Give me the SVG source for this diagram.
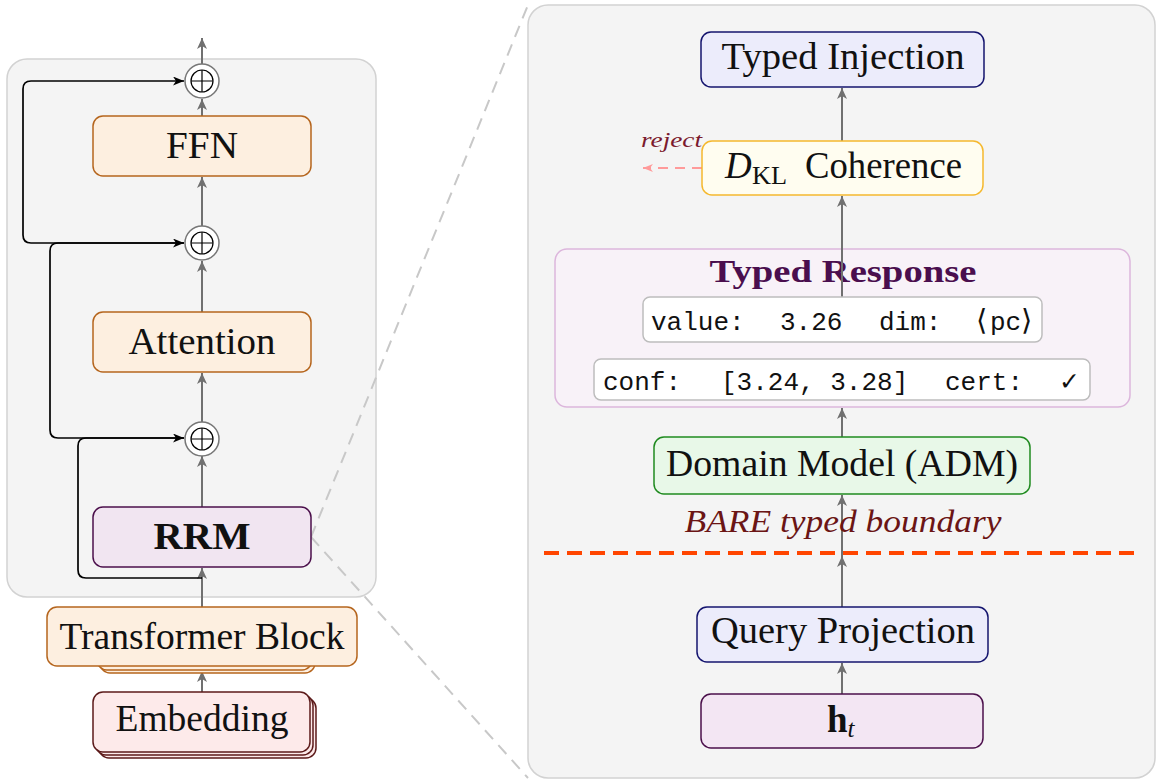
<svg xmlns="http://www.w3.org/2000/svg" width="1156" height="780" viewBox="0 0 1156 780">
<defs>
<style>
.lbl{font-family:"Liberation Serif",serif;font-size:37px;fill:#111;text-anchor:middle}
.mono{font-family:"Liberation Mono",monospace;font-size:26px;fill:#111}
.panel{fill:#f4f4f4;stroke:#d2d2d2;stroke-width:1.5}
.orange{fill:#fdefe0;stroke:#b5651d;stroke-width:1.5}
.purple{fill:#f1e5f1;stroke:#4b0f4b;stroke-width:1.5}
.pink{fill:#fdeaea;stroke:#5c1a1a;stroke-width:1.5}
.blue{fill:#ececfb;stroke:#14146e;stroke-width:1.5}
.yellow{fill:#fffdf0;stroke:#f5b82e;stroke-width:1.5}
.green{fill:#e8f8e8;stroke:#1f8a1f;stroke-width:1.5}
.field{fill:#ffffff;stroke:#bdbdbd;stroke-width:1.5}
.garr{fill:none;stroke:#707070;stroke-width:2;marker-end:url(#ga)}
.barr{fill:none;stroke:#000;stroke-width:1.7;marker-end:url(#ba)}
.zoomline{fill:none;stroke:#c8c8c8;stroke-width:2;stroke-dasharray:12 8}
</style>
<marker id="ga" markerUnits="userSpaceOnUse" markerWidth="13" markerHeight="11" refX="11" refY="5" orient="auto">
<path d="M0,0 L11,5 L0,10 L3,5 z" fill="#707070"/>
</marker>
<marker id="ba" markerUnits="userSpaceOnUse" markerWidth="13" markerHeight="10" refX="11" refY="4.5" orient="auto">
<path d="M0,0 L11,4.5 L0,9 L3,4.5 z" fill="#000"/>
</marker>
<marker id="ra" markerUnits="userSpaceOnUse" markerWidth="12" markerHeight="10" refX="10" refY="4" orient="auto">
<path d="M0,0 L10,4 L0,8 L3,4 z" fill="#ff9a9a"/>
</marker>
</defs>

<!-- panels -->
<rect class="panel" x="7" y="59" width="369" height="538" rx="20"/>
<rect class="panel" x="528" y="5" width="627" height="773" rx="20"/>

<!-- typed response container -->
<g id="typed-response">
<rect x="555" y="249" width="575" height="158" rx="12" fill="#f8f2f8" stroke="#dcb6dc" stroke-width="1.5"/>
<text x="843" y="282" font-family="Liberation Serif,serif" font-size="32" font-weight="bold" fill="#4a0e4e" text-anchor="middle" textLength="267" lengthAdjust="spacingAndGlyphs">Typed Response</text>
</g>

<!-- connectors -->
<g id="connectors">
<line class="garr" x1="202" y1="692" x2="202" y2="671"/>
<line class="garr" x1="202" y1="607" x2="202" y2="568"/>
<line class="garr" x1="202" y1="507" x2="202" y2="456"/>
<line class="garr" x1="202" y1="422" x2="202" y2="373"/>
<line class="garr" x1="202" y1="312" x2="202" y2="261"/>
<line class="garr" x1="202" y1="226" x2="202" y2="177"/>
<line class="garr" x1="202" y1="116" x2="202" y2="99"/>
<line class="garr" x1="202" y1="64" x2="202" y2="38"/>
<path class="barr" d="M202 578 H86 Q78 578 78 570 V446 Q78 438 86 438 H184"/>
<path class="barr" d="M184 438 H58 Q50 438 50 430 V251 Q50 243 58 243 H184"/>
<path class="barr" d="M184 243 H31 Q23 243 23 235 V89 Q23 81 31 81 H184"/>

<line class="garr" x1="842" y1="694" x2="842" y2="663"/>
<line class="garr" x1="842" y1="607" x2="842" y2="556"/>
<line class="garr" x1="842" y1="556" x2="842" y2="495"/>
<line class="garr" x1="842" y1="437" x2="842" y2="408"/>
<line class="garr" x1="842" y1="297" x2="842" y2="196"/>
<line class="garr" x1="842" y1="141" x2="842" y2="88"/>
<line x1="702" y1="168" x2="643" y2="168" stroke="#ff9a9a" stroke-width="1.8" stroke-dasharray="10 7" marker-end="url(#ra)"/>
<line class="zoomline" x1="311" y1="537" x2="528" y2="5"/>
<line class="zoomline" x1="311" y1="537" x2="528" y2="778"/>
</g>

<!-- boundary -->
<g id="boundary">
<line x1="544" y1="553" x2="1141" y2="553" stroke="#ff4500" stroke-width="4" stroke-dasharray="15 8"/>
<text x="843" y="532" font-family="Liberation Serif,serif" font-size="31" font-style="italic" fill="#6b1515" text-anchor="middle" textLength="317" lengthAdjust="spacingAndGlyphs">BARE typed boundary</text>
</g>

<!-- left nodes -->
<g id="oplus-top">
<circle cx="202" cy="81" r="17" fill="#fff" stroke="#777" stroke-width="1.5"/>
<circle cx="202" cy="81" r="11" fill="none" stroke="#000" stroke-width="1.2"/>
<path d="M191 81 H213 M202 70 V92" stroke="#000" stroke-width="1.2"/>
</g>
<g id="oplus-mid">
<circle cx="202" cy="243" r="17" fill="#fff" stroke="#777" stroke-width="1.5"/>
<circle cx="202" cy="243" r="11" fill="none" stroke="#000" stroke-width="1.2"/>
<path d="M191 243 H213 M202 232 V254" stroke="#000" stroke-width="1.2"/>
</g>
<g id="oplus-bot">
<circle cx="202" cy="439" r="17" fill="#fff" stroke="#777" stroke-width="1.5"/>
<circle cx="202" cy="439" r="11" fill="none" stroke="#000" stroke-width="1.2"/>
<path d="M191 439 H213 M202 428 V450" stroke="#000" stroke-width="1.2"/>
</g>
<g id="ffn">
<rect class="orange" x="93" y="116" width="218" height="60" rx="10"/>
<text class="lbl" x="202" y="158" textLength="72" lengthAdjust="spacingAndGlyphs">FFN</text>
</g>
<g id="attention">
<rect class="orange" x="93" y="312" width="218" height="60" rx="10"/>
<text class="lbl" x="202" y="354" textLength="147" lengthAdjust="spacingAndGlyphs">Attention</text>
</g>
<g id="rrm">
<rect class="purple" x="93" y="507" width="218" height="60" rx="10"/>
<text class="lbl" x="202" y="549" font-weight="bold" textLength="97" lengthAdjust="spacingAndGlyphs">RRM</text>
</g>
<g id="transformer-block">
<rect class="orange" x="100" y="615" width="215" height="58" rx="10"/>
<rect class="orange" x="97" y="612" width="215" height="58" rx="10"/>
<rect class="orange" x="47" y="607" width="310" height="59" rx="10"/>
<text class="lbl" x="202" y="649" textLength="285" lengthAdjust="spacingAndGlyphs">Transformer Block</text>
</g>
<g id="embedding">
<rect class="pink" x="99" y="698" width="217" height="60" rx="10"/>
<rect class="pink" x="96" y="695" width="217" height="60" rx="10"/>
<rect class="pink" x="93" y="692" width="217" height="60" rx="10"/>
<text class="lbl" x="202" y="731" textLength="173" lengthAdjust="spacingAndGlyphs">Embedding</text>
</g>

<!-- right nodes -->
<g id="typed-injection">
<rect class="blue" x="701" y="32" width="283" height="55" rx="10"/>
<text class="lbl" x="843" y="69" textLength="243" lengthAdjust="spacingAndGlyphs">Typed Injection</text>
</g>
<g id="dkl-coherence">
<rect class="yellow" x="702" y="141" width="281" height="54" rx="10"/>
<text font-family="Liberation Serif,serif" font-size="37" fill="#111" x="725" y="178"><tspan font-style="italic">D</tspan><tspan x="752" y="184" font-size="26" textLength="35" lengthAdjust="spacingAndGlyphs">KL</tspan><tspan x="805" y="178" textLength="157" lengthAdjust="spacingAndGlyphs">Coherence</tspan></text>
<text x="641" y="147" font-family="Liberation Serif,serif" font-size="22" font-style="italic" fill="#7b1a2e" textLength="61" lengthAdjust="spacingAndGlyphs">reject</text>
</g>
<g id="field-value">
<rect class="field" x="643" y="297" width="399" height="45" rx="7"/>
<text class="mono" y="330"><tspan x="651">value:</tspan><tspan x="780">3.26</tspan><tspan x="879">dim:</tspan><tspan x="976" font-family="DejaVu Serif,serif" font-size="29">⟨</tspan><tspan x="990">pc</tspan><tspan x="1021" font-family="DejaVu Serif,serif" font-size="29">⟩</tspan></text>
</g>
<g id="field-conf">
<rect class="field" x="594" y="359" width="496" height="41" rx="7"/>
<text class="mono" y="390"><tspan x="603">conf:</tspan><tspan x="721">[3.24, 3.28]</tspan><tspan x="945">cert:</tspan><tspan x="1059" font-family="DejaVu Sans,sans-serif" font-size="25">✓</tspan></text>
</g>
<g id="domain-model">
<rect class="green" x="654" y="437" width="376" height="57" rx="10"/>
<text class="lbl" x="842" y="476" textLength="352" lengthAdjust="spacingAndGlyphs">Domain Model (ADM)</text>
</g>
<g id="query-projection">
<rect class="blue" x="697" y="607" width="291" height="55" rx="10"/>
<text class="lbl" x="843" y="643" textLength="264" lengthAdjust="spacingAndGlyphs">Query Projection</text>
</g>
<g id="h-t">
<rect class="purple" x="701" y="694" width="282" height="54" rx="10" style="fill:#f3e6f3"/>
<text font-family="Liberation Serif,serif" font-size="37" fill="#111" x="827" y="732"><tspan font-weight="bold">h</tspan><tspan font-style="italic" font-size="25" dy="5">t</tspan></text>
</g>
</svg>
